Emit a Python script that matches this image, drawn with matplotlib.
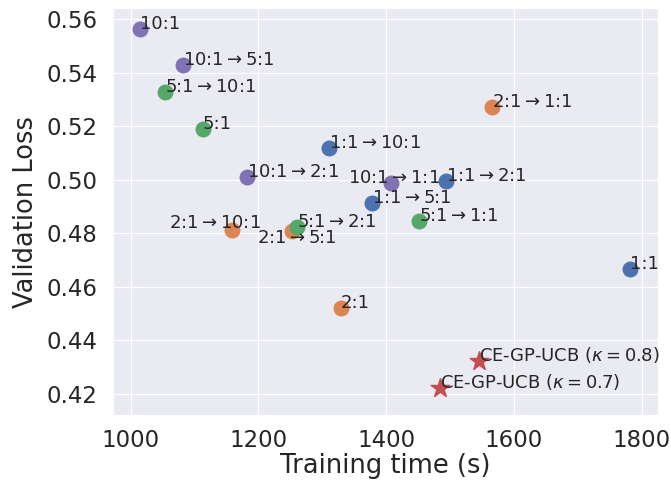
import matplotlib
matplotlib.use('Agg')
import matplotlib.pyplot as plt
import seaborn as sns

sns.set_style('darkgrid')
plt.rcParams['font.family'] = ['DejaVu Sans']

pal = sns.color_palette('deep')

# runs grouped by the starting ratio
labels_11 = ['1:1', r'1:1$\rightarrow$10:1', r'1:1$\rightarrow$2:1', r'1:1$\rightarrow$5:1']
time_11 = [1781, 1311, 1494, 1378]
loss_11 = [0.4664, 0.5117, 0.4994, 0.4911]

labels_21 = ['2:1', r'2:1$\rightarrow$10:1', r'2:1$\rightarrow$5:1', r'2:1$\rightarrow$1:1']
time_21 = [1329, 1158, 1252, 1566]
loss_21 = [0.4518, 0.4810, 0.4806, 0.5271]

labels_51 = ['5:1', r'5:1$\rightarrow$10:1', r'5:1$\rightarrow$2:1', r'5:1$\rightarrow$1:1']
time_51 = [1113, 1054, 1260, 1452]
loss_51 = [0.5191, 0.5327, 0.4821, 0.4844]

labels_101 = ['10:1', r'10:1$\rightarrow$5:1', r'10:1$\rightarrow$2:1', r'10:1$\rightarrow$1:1']
time_101 = [1014, 1082, 1182, 1408]
loss_101 = [0.5563, 0.5430, 0.5010, 0.4986]

labels_ce = [r'CE-GP-UCB ($\kappa=0.8$)', r'CE-GP-UCB ($\kappa=0.7$)']
time_ce = [1546, 1485]
loss_ce = [0.4320, 0.4219]

# label offsets (points) for the few that were moved by hand
shift = {r'2:1$\rightarrow$10:1': (-45, 2),
         r'2:1$\rightarrow$5:1': (-25, -8),
         r'10:1$\rightarrow$1:1': (-31, 0)}

fig = plt.figure(figsize=(6.71, 4.83), dpi=100)
ax = fig.add_axes([0.168, 0.141, 0.813, 0.842])

groups = [(labels_11, time_11, loss_11, pal[0]),
          (labels_21, time_21, loss_21, pal[1]),
          (labels_51, time_51, loss_51, pal[2]),
          (labels_101, time_101, loss_101, pal[4])]

for lbls, t, l, c in groups:
    ax.scatter(t, l, s=110, color=c, zorder=3)
ax.scatter(time_ce, loss_ce, s=200, marker='*', color=pal[3], zorder=3)

for lbls, t, l, c in groups + [(labels_ce, time_ce, loss_ce, None)]:
    for lb, x, y in zip(lbls, t, l):
        dx, dy = shift.get(lb, (0, 0))
        ax.annotate(lb, (x, y), xytext=(dx, dy), textcoords='offset points',
                    fontsize=13, color='#262626', zorder=4)

ax.set_xlim(972, 1826)
ax.set_ylim(0.412, 0.5641)
ax.set_xticks([1000, 1200, 1400, 1600, 1800])
ax.set_yticks([0.42, 0.44, 0.46, 0.48, 0.50, 0.52, 0.54, 0.56])
ax.set_yticklabels(['%.2f' % v for v in ax.get_yticks()])
ax.tick_params(axis='both', labelsize=16.5, colors='#262626', length=0)
ax.tick_params(axis='y', pad=11)
ax.tick_params(axis='x', pad=10)
ax.set_xlabel('Training time (s)', fontsize=18.5, color='#262626', labelpad=1)
ax.set_ylabel('Validation Loss', fontsize=18.5, color='#262626', labelpad=5)

fig.savefig('out.png', dpi=100)
